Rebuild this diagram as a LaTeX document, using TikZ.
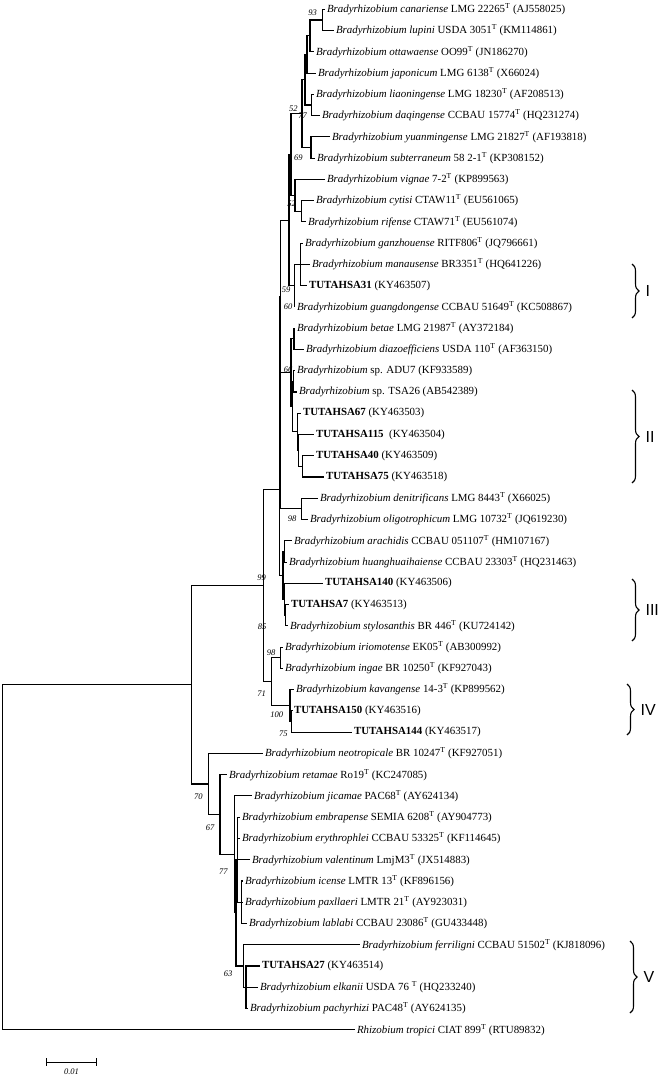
\documentclass[tikz,border=0pt]{standalone}
\usepackage{fontspec}
\setmainfont{Liberation Serif}
\newfontfamily\grpfont{Liberation Sans}
\usetikzlibrary{decorations.pathreplacing}
\tikzset{taxon/.style={anchor=west,inner sep=1.5pt,font=\fontsize{10.9}{12}\selectfont}}
\tikzset{boot/.style={inner sep=0pt,font=\fontsize{8.5}{9}\selectfont\itshape}}
\tikzset{clade/.style={decorate,decoration={brace,amplitude=7pt},line width=1.1pt}}
\tikzset{grp/.style={anchor=west,inner sep=0pt,font=\fontsize{16}{16}\selectfont\grpfont}}
\newcommand{\Br}[1]{\textit{Bradyrhizobium #1}}
\newcommand{\Ty}{\textsuperscript{T}}
\begin{document}
\begin{tikzpicture}[x=1pt,y=-1pt,line width=1.1pt]
\useasboundingbox (0,0) rectangle (666,1078);
% taxa
\node (l0) [taxon] at (325,9.3) {\Br{canariense} LMG 22265\Ty{} (AJ558025)};
\node (l1) [taxon] at (334,30.6) {\Br{lupini} USDA 3051\Ty{} (KM114861)};
\node (l2) [taxon] at (314,51.8) {\Br{ottawaense} OO99\Ty{} (JN186270)};
\node (l3) [taxon] at (316,73.1) {\Br{japonicum} LMG 6138\Ty{} (X66024)};
\node (l4) [taxon] at (314,94.3) {\Br{liaoningense} LMG 18230\Ty{} (AF208513)};
\node (l5) [taxon] at (320,115.6) {\Br{daqingense} CCBAU 15774\Ty{} (HQ231274)};
\node (l6) [taxon] at (330,136.9) {\Br{yuanmingense} LMG 21827\Ty{} (AF193818)};
\node (l7) [taxon] at (315,158.1) {\Br{subterraneum} 58 2-1\Ty{} (KP308152)};
\node (l8) [taxon] at (325,179.4) {\Br{vignae} 7-2\Ty{} (KP899563)};
\node (l9) [taxon] at (314,200.6) {\Br{cytisi} CTAW11\Ty{} (EU561065)};
\node (l10) [taxon] at (306,221.9) {\Br{rifense} CTAW71\Ty{} (EU561074)};
\node (l11) [taxon] at (303,243.2) {\Br{ganzhouense} RITF806\Ty{} (JQ796661)};
\node (l12) [taxon] at (310,264.4) {\Br{manausense} BR3351\Ty{} (HQ641226)};
\node (l13) [taxon] at (307,285.7) {\textbf{TUTAHSA31} (KY463507)};
\node (l14) [taxon] at (295,306.9) {\Br{guangdongense} CCBAU 51649\Ty{} (KC508867)};
\node (l15) [taxon] at (295,328.2) {\Br{betae} LMG 21987\Ty{} (AY372184)};
\node (l16) [taxon] at (304,349.5) {\Br{diazoefficiens} USDA 110\Ty{} (AF363150)};
\node (l17) [taxon] at (295,370.7) {\textit{Bradyrhizobium} sp. ADU7 (KF933589)};
\node (l18) [taxon] at (297,392.0) {\textit{Bradyrhizobium} sp. TSA26 (AB542389)};
\node (l19) [taxon] at (301,413.2) {\textbf{TUTAHSA67} (KY463503)};
\node (l20) [taxon] at (314,434.5) {\textbf{TUTAHSA115}\ \ (KY463504)};
\node (l21) [taxon] at (314,455.8) {\textbf{TUTAHSA40} (KY463509)};
\node (l22) [taxon] at (324,477.0) {\textbf{TUTAHSA75} (KY463518)};
\node (l23) [taxon] at (318,498.3) {\Br{denitrificans} LMG 8443\Ty{} (X66025)};
\node (l24) [taxon] at (308,519.5) {\Br{oligotrophicum} LMG 10732\Ty{} (JQ619230)};
\node (l25) [taxon] at (292,540.8) {\Br{arachidis} CCBAU 051107\Ty{} (HM107167)};
\node (l26) [taxon] at (287,562.1) {\Br{huanghuaihaiense} CCBAU 23303\Ty{} (HQ231463)};
\node (l27) [taxon] at (323,583.3) {\textbf{TUTAHSA140} (KY463506)};
\node (l28) [taxon] at (289,604.6) {\textbf{TUTAHSA7} (KY463513)};
\node (l29) [taxon] at (288,625.8) {\Br{stylosanthis} BR 446\Ty{} (KU724142)};
\node (l30) [taxon] at (283,647.1) {\Br{iriomotense} EK05\Ty{} (AB300992)};
\node (l31) [taxon] at (283,668.4) {\Br{ingae} BR 10250\Ty{} (KF927043)};
\node (l32) [taxon] at (294,689.6) {\Br{kavangense} 14-3\Ty{} (KP899562)};
\node (l33) [taxon] at (292,710.9) {\textbf{TUTAHSA150} (KY463516)};
\node (l34) [taxon] at (352,732.1) {\textbf{TUTAHSA144} (KY463517)};
\node (l35) [taxon] at (263,753.4) {\Br{neotropicale} BR 10247\Ty{} (KF927051)};
\node (l36) [taxon] at (227,774.7) {\Br{retamae} Ro19\Ty{} (KC247085)};
\node (l37) [taxon] at (252,795.9) {\Br{jicamae} PAC68\Ty{} (AY624134)};
\node (l38) [taxon] at (240,817.2) {\Br{embrapense} SEMIA 6208\Ty{} (AY904773)};
\node (l39) [taxon] at (240,838.4) {\Br{erythrophlei} CCBAU 53325\Ty{} (KF114645)};
\node (l40) [taxon] at (250,859.7) {\Br{valentinum} LmjM3\Ty{} (JX514883)};
\node (l41) [taxon] at (243,881.0) {\Br{icense} LMTR 13\Ty{} (KF896156)};
\node (l42) [taxon] at (243,902.2) {\Br{paxllaeri} LMTR 21\Ty{} (AY923031)};
\node (l43) [taxon] at (247,923.5) {\Br{lablabi} CCBAU 23086\Ty{} (GU433448)};
\node (l44) [taxon] at (360,944.7) {\Br{ferriligni} CCBAU 51502\Ty{} (KJ818096)};
\node (l45) [taxon] at (260,966.0) {\textbf{TUTAHSA27} (KY463514)};
\node (l46) [taxon] at (258,987.3) {\Br{elkanii} USDA 76 \Ty{} (HQ233240)};
\node (l47) [taxon] at (248,1008.5) {\Br{pachyrhizi} PAC48\Ty{} (AY624135)};
\node (l48) [taxon] at (355,1029.8) {\textit{Rhizobium tropici} CIAT 899\Ty{} (RTU89832)};
% inner nodes
\coordinate (A) at (322.7,20.0);
\coordinate (B) at (310,35.9);
\coordinate (C) at (307,54.5);
\coordinate (D) at (311.7,105.0);
\coordinate (n52) at (305,79.8);
\coordinate (E) at (311,147.5);
\coordinate (n77) at (302,113.7);
\coordinate (cr) at (301.7,211.3);
\coordinate (vg) at (295,195.4);
\coordinate (j1) at (291,154.6);
\coordinate (i1) at (300.7,264.4);
\coordinate (n60) at (294.3,285.7);
\coordinate (U) at (289,220.2);
\coordinate (G) at (294,338.9);
\coordinate (t40) at (302.5,466.4);
\coordinate (t115) at (298.5,450.5);
\coordinate (t67) at (297.5,431.9);
\coordinate (Z) at (293.5,381.4);
\coordinate (n66) at (292.5,406.7);
\coordinate (H) at (291,372.8);
\coordinate (X) at (280.7,296.5);
\coordinate (dn) at (301.7,508.9);
\coordinate (P) at (280,402.7);
\coordinate (ah) at (284.3,551.5);
\coordinate (s7) at (285.5,615.2);
\coordinate (n85) at (284.5,599.3);
\coordinate (Q) at (283,575.4);
\coordinate (top) at (279.3,489.1);
\coordinate (ir) at (280.7,657.8);
\coordinate (s150) at (291.5,721.5);
\coordinate (n100) at (290,705.6);
\coordinate (n71) at (271.7,681.7);
\coordinate (n99) at (263.3,585.4);
\coordinate (ic) at (241.7,902.2);
\coordinate (em) at (237.5,859.7);
\coordinate (ek) at (246,987.3);
\coordinate (n63) at (243.3,966.0);
\coordinate (nb) at (236,912.9);
\coordinate (m77) at (234.5,854.4);
\coordinate (n67) at (220,814.6);
\coordinate (n70) at (208.3,784.0);
\coordinate (na) at (191.7,684.7);
\coordinate (root) at (2.9,857.3);
% branches
\foreach \p/\c in {A/l0,A/l1,B/A,B/l2,C/B,C/l3,D/l4,D/l5,n52/C,n52/D,E/l6,E/l7,
  n77/n52,n77/E,cr/l9,cr/l10,vg/l8,vg/cr,j1/n77,j1/vg,i1/l11,i1/l12,i1/l13,
  n60/i1,n60/l14,U/j1,U/n60,G/l15,G/l16,t40/l21,t40/l22,t115/l20,t115/t40,
  t67/l19,t67/t115,Z/l17,Z/l18,n66/Z,n66/t67,H/G,H/n66,X/U,X/H,dn/l23,dn/l24,
  P/X,P/dn,ah/l25,ah/l26,s7/l28,s7/l29,n85/l27,n85/s7,Q/ah,Q/n85,top/P,top/Q,
  ir/l30,ir/l31,s150/l33,s150/l34,n100/l32,n100/s150,n71/ir,n71/n100,
  n99/top,n99/n71,ic/l41,ic/l42,ic/l43,em/l38,em/l39,em/l40,em/ic,
  ek/l45,ek/l46,ek/l47,n63/l44,n63/ek,nb/em,nb/n63,m77/l37,m77/nb,
  n67/l36,n67/m77,n70/l35,n70/n67,na/n99,na/n70,root/na,root/l48}
  \draw (\p) |- (\c);
% bootstrap values
\node (b93) [boot] at (312.5,12.7) {93};
\node (b52) [boot] at (293.3,108.3) {52};
\node (b77) [boot] at (302.5,115.5) {77};
\node (b69) [boot] at (298.3,157.3) {69};
\node (b52b) [boot] at (291.7,204) {52};
\node (b59) [boot] at (286,290) {59};
\node (b60) [boot] at (288,306.7) {60};
\node (b66) [boot] at (288,370) {66};
\node (b98) [boot] at (292,519) {98};
\node (b99) [boot] at (261.7,578) {99};
\node (b85) [boot] at (262,626.7) {85};
\node (b98b) [boot] at (271,653) {98};
\node (b71) [boot] at (261.7,693.3) {71};
\node (b100) [boot] at (276.7,715) {100};
\node (b75) [boot] at (283.3,733.3) {75};
\node (b70) [boot] at (198.3,796.7) {70};
\node (b67) [boot] at (210,828) {67};
\node (b77b) [boot] at (223.3,871.7) {77};
\node (b63) [boot] at (228,974) {63};
% groups
\draw[clade] (632,264) -- (632,318);
\node (gI) [grp] at (645,291) {I};
\draw[clade] (632,390) -- (632,483);
\node (gII) [grp] at (645,436.5) {II};
\draw[clade] (632,579) -- (632,641);
\node (gIII) [grp] at (645,610) {III};
\draw[clade] (627,684) -- (627,735);
\node (gIV) [grp] at (640,709.5) {IV};
\draw[clade] (630,941) -- (630,1013);
\node (gV) [grp] at (643,977) {V};
% scale
\coordinate (s0) at (46,1062);
\coordinate (s1) at (97,1062);
\draw[|-|,line width=1pt] (s0) -- (s1);
\node (sl) [boot] at (71.5,1072) {0.01};
\end{tikzpicture}
\end{document}
